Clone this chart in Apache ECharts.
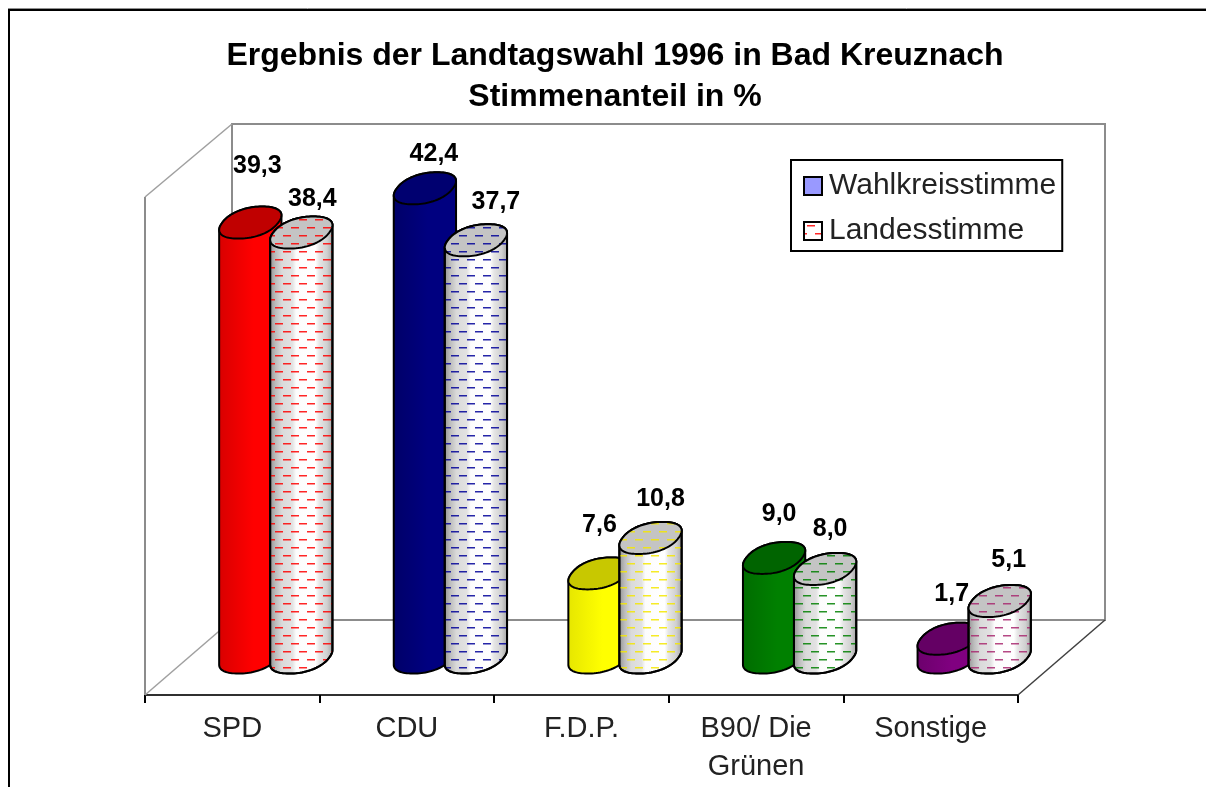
<!DOCTYPE html>
<html>
<head>
<meta charset="utf-8">
<style>html,body{margin:0;padding:0;background:#fff}#main{width:1206px;height:787px}</style>
<script src="https://cdn.jsdelivr.net/npm/echarts@6/dist/echarts.min.js"></script>
</head>
<body>
<div id="main"></div>
<script>
// data
var categories = ['SPD', 'CDU', 'F.D.P.', 'B90/ Die\nGrünen', 'Sonstige'];
var wahlkreis = [39.3, 42.4, 7.6, 9.0, 1.7];
var landes = [38.4, 37.7, 10.8, 8.0, 5.1];

// colours per party: body, darker side, lid, dashes
var bodyColors = ['#ff0000', '#000080', '#ffff00', '#008000', '#800080'];
var bodyDark = ['#d80000', '#000068', '#e6e600', '#006c00', '#6c006c'];
var lidColors = ['#c00000', '#000070', '#c8c800', '#006400', '#640064'];
var dashColors = ['#ff0000', '#000099', '#f4e800', '#008000', '#a82870'];

// hand placed label nudges, [dx, dy] from the lid centre (ser1 / ser2)
var nudge1 = [[7, -56], [9, -34], [0, -48], [5, -44], [3, -45]];
var nudge2 = [[11, -33], [20, -38], [10, -39], [5, -40], [9, -41]];

var DEPTH_X = 87, DEPTH_Y = 75;   // the 3d floor
var SHIFT = 25.5;                 // half distance between the two cylinders
var RX = 28, EX = 12, EY = 16;    // lid ellipse
var SQUARE = 0.9;                 // lids are a bit boxy in the picture
var RING = 96;

function dashPattern(color, bg) {
	var c = document.createElement('canvas');
	c.width = 16; c.height = 16;
	var g = c.getContext('2d');
	if (bg) { g.fillStyle = bg; g.fillRect(0, 0, 16, 16); }
	g.globalAlpha = 0.85;
	g.fillStyle = color;
	g.fillRect(3, 3, 8, 1.5);
	g.fillRect(11, 11, 5, 1.5);
	g.fillRect(0, 11, 3, 1.5);
	return { image: c, repeat: 'repeat' };
}

function spow(v) {
	return (v < 0 ? -1 : 1) * Math.pow(Math.abs(v), SQUARE);
}

function ringPoints(cx, cy) {
	var pts = [];
	for (var i = 0; i < RING; i++) {
		var t = i / RING * Math.PI * 2, c = spow(Math.cos(t)), s = spow(Math.sin(t));
		pts.push([cx + RX * c + EX * s, cy - EY * s]);
	}
	return pts;
}

// index of the ring point furthest right, the left one sits opposite
function rightIndex() {
	var ring = ringPoints(0, 0), best = 0;
	for (var i = 1; i < RING; i++) if (ring[i][0] > ring[best][0]) best = i;
	return best;
}

// outline: lower half of the base, then back along the upper half of the top
function bodyPoints(cx, topY, baseY) {
	var r = rightIndex(), half = RING / 2, pts = [], i;
	var base = ringPoints(cx, baseY), lid = ringPoints(cx, topY);
	for (i = 0; i <= half; i++) pts.push(base[(r + half + i) % RING]);
	for (i = 0; i <= half; i++) pts.push(lid[(r + i) % RING]);
	return pts;
}

function shadeBody(color, dark) {
	return {
		type: 'linear', x: 0, y: 0, x2: 1, y2: 0,
		colorStops: [
			{ offset: 0, color: dark },
			{ offset: 0.55, color: color },
			{ offset: 1, color: color }
		]
	};
}

var silver = {
	type: 'linear', x: 0, y: 0, x2: 1, y2: 0,
	colorStops: [
		{ offset: 0, color: '#909090' },
		{ offset: 0.1, color: '#bcbcbc' },
		{ offset: 0.2, color: '#dadada' },
		{ offset: 0.36, color: '#e2e2e2' },
		{ offset: 0.42, color: '#fcfcfc' },
		{ offset: 0.72, color: '#ffffff' },
		{ offset: 0.78, color: '#e6e6e6' },
		{ offset: 0.9, color: '#d0d0d0' },
		{ offset: 1, color: '#a0a0a0' }
	]
};

function cylinder(values, sign, nudges, hatched) {
	return function (params, api) {
		var i = api.value(0);
		var v = api.value(1);
		var top = api.coord([i, v]);
		var base = api.coord([i, 0]);
		var cx = top[0] + DEPTH_X / 2 + sign * SHIFT;
		var topY = top[1] - DEPTH_Y / 2;
		var baseY = base[1] - DEPTH_Y / 2;
		var line = { stroke: '#000', lineWidth: 2 };
		var kids = [{
			type: 'polygon', shape: { points: bodyPoints(cx, topY, baseY) },
			style: Object.assign({ fill: hatched ? silver : shadeBody(bodyColors[i], bodyDark[i]) }, line)
		}];
		if (hatched) {
			kids.push({
				type: 'polygon', shape: { points: bodyPoints(cx, topY, baseY) },
				style: { fill: dashPattern(dashColors[i]), stroke: '#000', lineWidth: 2 }
			});
		}
		kids.push({
			type: 'polygon', shape: { points: ringPoints(cx, topY) },
			style: Object.assign({ fill: hatched ? dashPattern(dashColors[i], '#c4c4c4') : lidColors[i] }, line)
		});
		kids.push({
			type: 'text',
			style: {
				x: cx + nudges[i][0], y: topY + nudges[i][1],
				text: values[i].toFixed(1).replace('.', ','),
				font: 'bold 25px "Liberation Sans"', fill: '#000',
				align: 'center', verticalAlign: 'middle'
			}
		});
		return { type: 'group', children: kids };
	};
}

function drawWalls(params) {
	var b = params.coordSys;
	var x0 = b.x, x1 = b.x + b.width, y0 = b.y, y1 = b.y + b.height;
	var backTop = y0 - DEPTH_Y + 2;
	var wall = { stroke: '#8c8c8c', lineWidth: 2, fill: 'none' };
	var thin = { stroke: '#a0a0a0', lineWidth: 1.5, fill: 'none' };
	function seg(pts, st) { return { type: 'polyline', shape: { points: pts }, style: st }; }
	return {
		type: 'group',
		children: [
			seg([[x0 + DEPTH_X, y1 - DEPTH_Y], [x0 + DEPTH_X, backTop], [x1 + DEPTH_X, backTop], [x1 + DEPTH_X, y1 - DEPTH_Y], [x0 + DEPTH_X, y1 - DEPTH_Y]], wall),
			seg([[x0, y1], [x0, y0]], wall),
			seg([[x0, y0], [x0 + DEPTH_X, backTop]], thin),
			seg([[x0, y1], [x0 + DEPTH_X, y1 - DEPTH_Y]], thin),
			seg([[x1, y1], [x1 + DEPTH_X, y1 - DEPTH_Y]], { stroke: '#404040', lineWidth: 1.5, fill: 'none' })
		]
	};
}

function pairs(arr) {
	return arr.map(function (v, i) { return [i, v]; });
}

var myChart = echarts.init(document.getElementById('main'), null, { renderer: 'canvas' });

var option = {
	animation: false,
	backgroundColor: '#fff',
	title: {
		text: 'Ergebnis der Landtagswahl 1996 in Bad Kreuznach\nStimmenanteil in %',
		left: 610, top: 31, textAlign: 'center',
		textStyle: { fontFamily: 'Liberation Sans', fontWeight: 'bold', fontSize: 32, lineHeight: 41, color: '#000' }
	},
	legend: {
		left: 791, top: 160, orient: 'vertical', itemGap: 15,
		itemWidth: 18, itemHeight: 18, padding: [11, 6, 5, 12],
		borderColor: '#000', borderWidth: 2, backgroundColor: '#fff',
		textStyle: { fontFamily: 'Liberation Sans', fontSize: 30, color: '#222', padding: [0, 0, 0, 2] },
		data: [
			{ name: 'Wahlkreisstimme', icon: 'rect', itemStyle: { color: '#9999ff', borderColor: '#000', borderWidth: 2 } },
			{ name: 'Landesstimme', icon: 'rect', itemStyle: { color: dashPattern('#ff0000', '#fff'), borderColor: '#000', borderWidth: 2 } }
		]
	},
	grid: { left: 145, right: 188, top: 197, bottom: 92 },
	xAxis: {
		type: 'category', data: categories,
		axisLine: { lineStyle: { color: '#303030', width: 2 } },
		axisTick: { show: true, length: 8, alignWithLabel: false, lineStyle: { color: '#000', width: 2 } },
		axisLabel: { fontFamily: 'Liberation Sans', fontSize: 29, lineHeight: 38, color: '#222', margin: 15, interval: 0 },
		splitLine: { show: false }
	},
	yAxis: { type: 'value', min: 0, max: 45, show: false },
	series: [
		{ type: 'custom', name: 'walls', silent: true, z: 1, renderItem: drawWalls, data: [[0, 0]] },
		{ type: 'custom', name: 'Wahlkreisstimme', z: 2, renderItem: cylinder(wahlkreis, -1, nudge1, false), data: pairs(wahlkreis) },
		{ type: 'custom', name: 'Landesstimme', z: 3, renderItem: cylinder(landes, 1, nudge2, true), data: pairs(landes) }
	],
	// frame of the pasted picture: only top and left are visible
	graphic: [
		{ type: 'line', silent: true, shape: { x1: 8, y1: 8.5, x2: 1206, y2: 8.5 }, style: { stroke: '#909090', lineWidth: 1 } },
		{ type: 'line', silent: true, shape: { x1: 8, y1: 10, x2: 1206, y2: 10 }, style: { stroke: '#000', lineWidth: 2 } },
		{ type: 'line', silent: true, shape: { x1: 9, y1: 9, x2: 9, y2: 787 }, style: { stroke: '#000', lineWidth: 2 } }
	]
};

myChart.setOption(option);
</script>
</body>
</html>
